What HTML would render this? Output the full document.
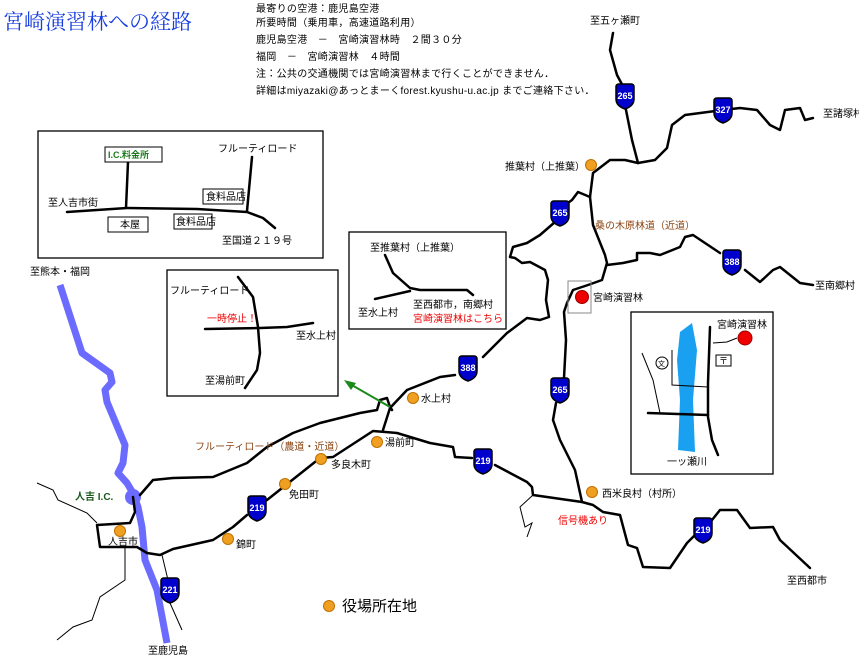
<!DOCTYPE html>
<html><head><meta charset="utf-8"><style>
html,body{margin:0;padding:0;background:#fff;}
svg{display:block;font-family:"Liberation Sans","Noto Sans CJK JP",sans-serif;}
.t{font-size:10px;fill:#000;}
.r{fill:none;stroke:#000;stroke-width:2.5;stroke-linejoin:round;stroke-linecap:round;}
.th{fill:none;stroke:#000;stroke-width:1;}
.bx{fill:#fff;stroke:#000;stroke-width:1.3;}
.dot{fill:#f0a020;stroke:#c07000;stroke-width:1;}
</style></head><body>
<svg width="859" height="658" viewBox="0 0 859 658" xmlns="http://www.w3.org/2000/svg">
<defs>
<g id="sh"><path d="M-9,-9 Q-9,-12 -6,-12 L6,-12 Q9,-12 9,-9 L9,3 Q9,10 0,13 Q-9,10 -9,3 Z" fill="#0000cc" stroke="#000" stroke-width="1.5"/></g>
</defs>
<text x="3" y="29" font-size="21" fill="#1a3fe0" font-family="Liberation Serif,Noto Serif CJK SC,serif">宮崎演習林への経路</text>
<g class="t" letter-spacing="0.3">
<text x="256" y="12">最寄りの空港：鹿児島空港</text>
<text x="256" y="26">所要時間（乗用車，高速道路利用）</text>
<text x="256" y="43">鹿児島空港　－　宮崎演習林時　２間３０分</text>
<text x="256" y="60">福岡　－　宮崎演習林　４時間</text>
<text x="256" y="77">注：公共の交通機関では宮崎演習林まで行くことができません．</text>
<text x="256" y="94">詳細はmiyazaki@あっとまーくforest.kyushu-u.ac.jp までご連絡下さい．</text>
</g>
<!-- river -->
<polyline points="60,285 82,353 110,373 112,382 105,390 107,402 125,445 123,463 118,473 127,483 133,493 138,507 142,527 145,560 157,590 167,643" fill="none" stroke="#6b6bff" stroke-width="7" stroke-linejoin="round"/>
<circle cx="133" cy="497" r="8" fill="#6b6bff"/>
<!-- thin lines -->
<polyline class="th" points="37,483 53,490 58,500 87,513 97,523"/>
<polyline class="th" points="125,548 125,580 100,597 92,620 73,627 57,640"/>
<polyline class="th" points="162,555 168,580"/>
<polyline class="th" points="170,603 182,630"/>
<polyline class="th" points="533,495 520,507 525,527 532,523 527,537"/>
<!-- roads -->
<polyline class="r" points="613,33 610,50 617,75 625,90"/>
<polyline class="r" points="625,105 632,140 638,163"/>
<polyline class="r" points="638,163 655,160 667,148 672,125 685,115 723,110 740,108 757,110 770,125 780,130 785,110 800,108 805,120 813,118"/>
<polyline class="r" points="638,163 625,160 610,160 593,173 590,197 578,192 572,200 565,205"/>
<polyline class="r" points="555,222 540,235 527,243 513,247 510,257 515,258 522,263 530,262 545,270 548,280 546,300 549,317 540,320 527,318 507,333 483,357"/>
<polyline class="r" points="455,375 440,377 407,390 390,408 383,430"/>
<polyline class="r" points="590,197 593,225 605,255 607,263 602,280 588,285 573,290 567,303 564,312 566,340 564,378"/>
<polyline class="r" points="556,403 553,420 560,440 575,470 582,502"/>
<polyline class="r" points="607,265 623,263 637,260 637,253 650,253 660,255 680,247 685,237 693,235 720,253"/>
<polyline class="r" points="745,270 760,282 773,270 780,267 800,283 813,285"/>
<polyline class="r" points="582,502 593,505 603,512 620,515 628,545 637,548 643,567 670,568 687,543 695,535"/>
<polyline class="r" points="712,520 720,510 737,510 750,528 773,527 780,540 810,568"/>
<polyline class="r" points="582,502 533,495 532,487 527,482 495,465"/>
<polyline class="r" points="472,458 455,457 453,447 430,443 397,433 373,431 333,457 320,458 267,500"/>
<polyline class="r" points="247,515 233,527 213,540 173,549 160,555 147,553 137,547 100,547 97,525 130,523 135,512 133,497"/>
<polyline class="r" points="140,495 153,480 173,478 213,477 247,463 267,447 293,433 320,423 360,413 377,410 380,400 387,398 390,407 392,410"/>
<!-- arrow -->
<line x1="390" y1="407" x2="350" y2="384" stroke="#1a8a1a" stroke-width="2"/>
<polygon points="344,380 356,383 351,390" fill="#1a8a1a"/>
<!-- shields -->
<g font-size="9" font-weight="bold" fill="#fff" text-anchor="middle">
<use href="#sh" x="625" y="96"/><text x="625" y="99">265</text>
<use href="#sh" x="723" y="110"/><text x="723" y="113">327</text>
<use href="#sh" x="560" y="213"/><text x="560" y="216">265</text>
<use href="#sh" x="732" y="262"/><text x="732" y="265">388</text>
<use href="#sh" x="468" y="368"/><text x="468" y="371">388</text>
<use href="#sh" x="560" y="390"/><text x="560" y="393">265</text>
<use href="#sh" x="483" y="461"/><text x="483" y="464">219</text>
<use href="#sh" x="257" y="508"/><text x="257" y="511">219</text>
<use href="#sh" x="703" y="530"/><text x="703" y="533">219</text>
<use href="#sh" x="170" y="590"/><text x="170" y="593">221</text>
</g>
<!-- dots -->
<circle class="dot" cx="591" cy="165" r="5.5"/>
<circle class="dot" cx="413" cy="398" r="5.5"/>
<circle class="dot" cx="377" cy="442" r="5.5"/>
<circle class="dot" cx="321" cy="459" r="5.5"/>
<circle class="dot" cx="285" cy="484" r="5.5"/>
<circle class="dot" cx="228" cy="539" r="5.5"/>
<circle class="dot" cx="120" cy="531" r="5.5"/>
<circle class="dot" cx="592" cy="492" r="5.5"/>
<circle class="dot" cx="329" cy="606" r="5.5"/>
<rect x="568" y="281" width="23" height="32" fill="none" stroke="#888" stroke-width="1"/>
<circle cx="582" cy="297" r="6.5" fill="#e00" stroke="#900"/>
<g class="t">
<text x="505" y="170">推葉村（上推葉）</text>
<text x="421" y="402">水上村</text>
<text x="385" y="446">湯前町</text>
<text x="331" y="468">多良木町</text>
<text x="289" y="498">免田町</text>
<text x="236" y="548">錦町</text>
<text x="108" y="545">人吉市</text>
<text x="602" y="497">西米良村（村所）</text>
<text x="593" y="301">宮崎演習林</text>
<text x="590" y="24">至五ヶ瀬町</text>
<text x="823" y="117">至諸塚村</text>
<text x="815" y="289">至南郷村</text>
<text x="787" y="584">至西都市</text>
<text x="30" y="275">至熊本・福岡</text>
<text x="148" y="654">至鹿児島</text>
</g>
<text x="342" y="611" font-size="15">役場所在地</text>
<text x="558" y="524" font-size="10" fill="#e00">信号機あり</text>
<text x="595" y="229" font-size="10" fill="#8b4513">桑の木原林道（近道）</text>
<text x="195" y="450" font-size="10" fill="#8b4513">フルーティロード（農道・近道）</text>
<text x="75" y="500" font-size="10" font-weight="bold" fill="#1a5a1a">人吉 I.C.</text>
<!-- box1 -->
<rect class="bx" x="38" y="131" width="285" height="127"/>
<polyline class="r" points="128,162 126,208"/>
<polyline class="r" points="67,212 127,208 197,209 247,212 263,218 275,228"/>
<polyline class="r" points="252,157 247,211"/>
<rect x="105" y="147" width="57" height="15" fill="#fff" stroke="#000"/>
<text x="108" y="158" font-size="9" font-weight="bold" fill="#1a7a1a">I.C.料金所</text>
<rect x="203" y="189" width="40" height="15" fill="#fff" stroke="#000"/>
<text x="206" y="200" class="t">食料品店</text>
<rect x="108" y="217" width="40" height="15" fill="#fff" stroke="#000"/>
<text x="120" y="228" class="t">本屋</text>
<rect x="174" y="214" width="38" height="15" fill="#fff" stroke="#000"/>
<text x="176" y="225" class="t">食料品店</text>
<text x="48" y="206" class="t">至人吉市街</text>
<text x="218" y="152" class="t">フルーティロード</text>
<text x="222" y="244" class="t">至国道２１９号</text>
<!-- box2 -->
<rect class="bx" x="167" y="270" width="171" height="126"/>
<polyline class="r" points="238,277 253,297 258,327 260,353 257,370 245,388"/>
<polyline class="r" points="205,329 260,328 287,327 313,323"/>
<text x="170" y="294" class="t">フルーティロード</text>
<text x="207" y="322" font-size="10" fill="#e00">一時停止！</text>
<text x="296" y="339" class="t">至水上村</text>
<text x="205" y="384" class="t">至湯前町</text>
<!-- box3 -->
<rect class="bx" x="349" y="232" width="157" height="97"/>
<polyline class="r" points="385,255 393,273 410,288 420,290 467,290 473,295"/>
<polyline class="r" points="375,299 410,291"/>
<text x="370" y="251" class="t">至推葉村（上推葉）</text>
<text x="358" y="316" class="t">至水上村</text>
<text x="413" y="308" class="t">至西都市，南郷村</text>
<text x="413" y="322" font-size="10" fill="#e00">宮崎演習林はこちら</text>
<!-- box4 -->
<rect class="bx" x="631" y="312" width="142" height="162"/>
<polygon points="680,332 692,323 697,350 693,400 695,452 678,450 680,400 677,360" fill="#1aa0f0"/>
<polyline class="r" points="710,327 708,383 708,417 712,440 718,455"/>
<polyline class="r" points="648,413 708,415"/>
<polyline class="th" points="713,343 727,342 737,338"/>
<polyline class="th" points="672,350 672,385 708,387"/>
<polyline class="th" points="642,353 653,380 660,413"/>
<circle cx="662" cy="363" r="6" fill="#fff" stroke="#000"/>
<text x="658" y="366" font-size="7">文</text>
<rect x="716" y="355" width="15" height="11" fill="#fff" stroke="#000"/>
<text x="719" y="364" font-size="9">〒</text>
<circle cx="745" cy="338" r="7" fill="#e00" stroke="#900"/>
<text x="717" y="328" class="t">宮崎演習林</text>
<text x="667" y="465" class="t">一ッ瀬川</text>
</svg>
</body></html>
